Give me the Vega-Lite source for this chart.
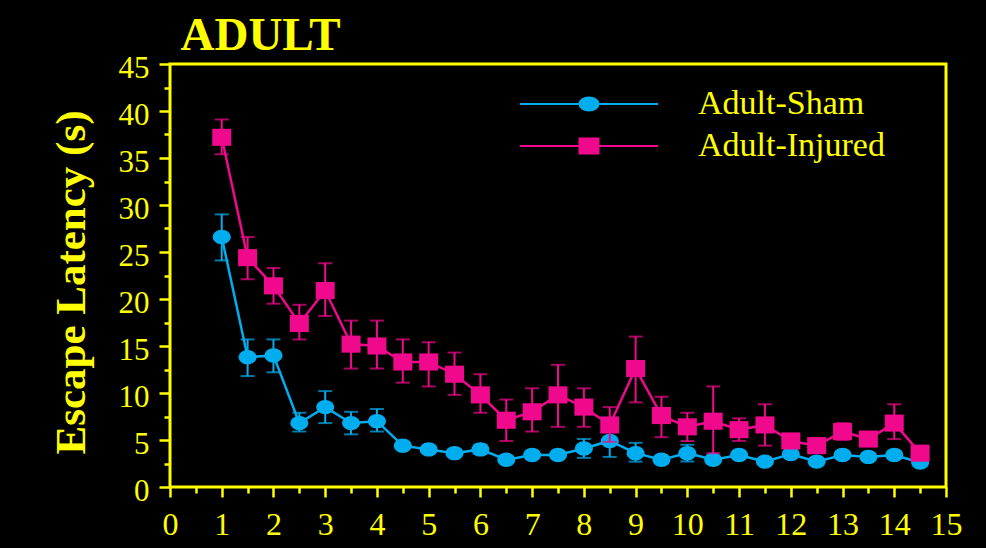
{
  "$schema": "https://vega.github.io/schema/vega-lite/v6.json",
  "width": 776,
  "height": 423,
  "autosize": "none",
  "padding": {"left": 170, "top": 64, "right": 40, "bottom": 61},
  "background": "#000000",
  "data": {
    "values": [
      {"day": 1, "group": "Adult-Sham", "mean": 26.6, "lo": 24.1, "hi": 29.0},
      {"day": 1.5, "group": "Adult-Sham", "mean": 13.8, "lo": 11.8, "hi": 15.7},
      {"day": 2, "group": "Adult-Sham", "mean": 14.0, "lo": 12.2, "hi": 15.7},
      {"day": 2.5, "group": "Adult-Sham", "mean": 6.8, "lo": 5.9, "hi": 7.9},
      {"day": 3, "group": "Adult-Sham", "mean": 8.5, "lo": 6.8, "hi": 10.2},
      {"day": 3.5, "group": "Adult-Sham", "mean": 6.8, "lo": 5.6, "hi": 8.0},
      {"day": 4, "group": "Adult-Sham", "mean": 7.0, "lo": 5.9, "hi": 8.3},
      {"day": 4.5, "group": "Adult-Sham", "mean": 4.4, "lo": 4.0, "hi": 4.8},
      {"day": 5, "group": "Adult-Sham", "mean": 4.0, "lo": 3.6, "hi": 4.4},
      {"day": 5.5, "group": "Adult-Sham", "mean": 3.6, "lo": 3.2, "hi": 4.0},
      {"day": 6, "group": "Adult-Sham", "mean": 4.0, "lo": 3.5, "hi": 4.5},
      {"day": 6.5, "group": "Adult-Sham", "mean": 2.9, "lo": 2.5, "hi": 3.3},
      {"day": 7, "group": "Adult-Sham", "mean": 3.4, "lo": 3.0, "hi": 3.8},
      {"day": 7.5, "group": "Adult-Sham", "mean": 3.4, "lo": 3.0, "hi": 3.8},
      {"day": 8, "group": "Adult-Sham", "mean": 4.1, "lo": 3.1, "hi": 5.1},
      {"day": 8.5, "group": "Adult-Sham", "mean": 4.9, "lo": 3.2, "hi": 6.6},
      {"day": 9, "group": "Adult-Sham", "mean": 3.6, "lo": 2.7, "hi": 4.7},
      {"day": 9.5, "group": "Adult-Sham", "mean": 2.9, "lo": 2.5, "hi": 3.3},
      {"day": 10, "group": "Adult-Sham", "mean": 3.6, "lo": 2.7, "hi": 4.5},
      {"day": 10.5, "group": "Adult-Sham", "mean": 2.9, "lo": 2.5, "hi": 3.3},
      {"day": 11, "group": "Adult-Sham", "mean": 3.4, "lo": 3.0, "hi": 3.8},
      {"day": 11.5, "group": "Adult-Sham", "mean": 2.7, "lo": 2.3, "hi": 3.1},
      {"day": 12, "group": "Adult-Sham", "mean": 3.5, "lo": 3.1, "hi": 3.9},
      {"day": 12.5, "group": "Adult-Sham", "mean": 2.7, "lo": 2.3, "hi": 3.1},
      {"day": 13, "group": "Adult-Sham", "mean": 3.4, "lo": 3.0, "hi": 3.8},
      {"day": 13.5, "group": "Adult-Sham", "mean": 3.2, "lo": 2.8, "hi": 3.6},
      {"day": 14, "group": "Adult-Sham", "mean": 3.4, "lo": 3.0, "hi": 3.8},
      {"day": 14.5, "group": "Adult-Sham", "mean": 2.6, "lo": 2.2, "hi": 3.0},
      {"day": 1, "group": "Adult-Injured", "mean": 37.2, "lo": 35.4, "hi": 39.1},
      {"day": 1.5, "group": "Adult-Injured", "mean": 24.4, "lo": 22.1, "hi": 26.6},
      {"day": 2, "group": "Adult-Injured", "mean": 21.4, "lo": 19.5, "hi": 23.3},
      {"day": 2.5, "group": "Adult-Injured", "mean": 17.4, "lo": 15.7, "hi": 19.4},
      {"day": 3, "group": "Adult-Injured", "mean": 20.9, "lo": 18.2, "hi": 23.8},
      {"day": 3.5, "group": "Adult-Injured", "mean": 15.2, "lo": 12.6, "hi": 17.7},
      {"day": 4, "group": "Adult-Injured", "mean": 15.0, "lo": 12.6, "hi": 17.7},
      {"day": 4.5, "group": "Adult-Injured", "mean": 13.3, "lo": 11.1, "hi": 15.7},
      {"day": 5, "group": "Adult-Injured", "mean": 13.3, "lo": 10.7, "hi": 15.4},
      {"day": 5.5, "group": "Adult-Injured", "mean": 12.0, "lo": 9.8, "hi": 14.3},
      {"day": 6, "group": "Adult-Injured", "mean": 9.8, "lo": 7.9, "hi": 12.0},
      {"day": 6.5, "group": "Adult-Injured", "mean": 7.1, "lo": 4.9, "hi": 9.3},
      {"day": 7, "group": "Adult-Injured", "mean": 8.0, "lo": 5.9, "hi": 10.5},
      {"day": 7.5, "group": "Adult-Injured", "mean": 9.8, "lo": 6.4, "hi": 13.0},
      {"day": 8, "group": "Adult-Injured", "mean": 8.5, "lo": 6.4, "hi": 10.5},
      {"day": 8.5, "group": "Adult-Injured", "mean": 6.6, "lo": 4.8, "hi": 8.5},
      {"day": 9, "group": "Adult-Injured", "mean": 12.6, "lo": 9.0, "hi": 16.0},
      {"day": 9.5, "group": "Adult-Injured", "mean": 7.6, "lo": 5.3, "hi": 9.6},
      {"day": 10, "group": "Adult-Injured", "mean": 6.4, "lo": 4.9, "hi": 7.9},
      {"day": 10.5, "group": "Adult-Injured", "mean": 7.0, "lo": 3.6, "hi": 10.7},
      {"day": 11, "group": "Adult-Injured", "mean": 6.1, "lo": 4.9, "hi": 7.3},
      {"day": 11.5, "group": "Adult-Injured", "mean": 6.6, "lo": 4.4, "hi": 8.8},
      {"day": 12, "group": "Adult-Injured", "mean": 4.9, "lo": 4.5, "hi": 5.3},
      {"day": 12.5, "group": "Adult-Injured", "mean": 4.4, "lo": 4.0, "hi": 4.8},
      {"day": 13, "group": "Adult-Injured", "mean": 5.9, "lo": 5.0, "hi": 6.8},
      {"day": 13.5, "group": "Adult-Injured", "mean": 5.1, "lo": 4.7, "hi": 5.5},
      {"day": 14, "group": "Adult-Injured", "mean": 6.8, "lo": 5.1, "hi": 8.8},
      {"day": 14.5, "group": "Adult-Injured", "mean": 3.6, "lo": 3.2, "hi": 4.0}
    ]
  },
  "config": {
    "view": {"stroke": "#ffff00", "strokeWidth": 3},
    "axis": {
      "grid": false,
      "domain": false,
      "tickColor": "#ffff00",
      "tickWidth": 2.5,
      "labelColor": "#ffff00",
      "labelFont": "Liberation Serif",
      "titleColor": "#ffff00",
      "titleFont": "Liberation Serif",
      "labelOverlap": false,
      "labelFlush": false
    }
  },
  "resolve": {"axis": {"x": "independent", "y": "independent"}},
  "layer": [
    {
      "transform": [{"filter": "datum.group === 'Adult-Sham'"}],
      "mark": {"type": "errorbar", "color": "#00aeef", "thickness": 2, "ticks": {"size": 14}},
      "encoding": {
        "x": {"field": "day", "type": "quantitative", "scale": {"domain": [0, 15], "nice": false}, "axis": null},
        "y": {"field": "lo", "type": "quantitative", "scale": {"domain": [0, 45], "nice": false}, "axis": null},
        "y2": {"field": "hi"}
      }
    },
    {
      "transform": [{"filter": "datum.group === 'Adult-Sham'"}],
      "mark": {"type": "line", "strokeWidth": 2.5},
      "encoding": {
        "x": {
          "field": "day", "type": "quantitative", "scale": {"domain": [0, 15], "nice": false},
          "axis": {"orient": "bottom", "title": null, "values": [0,1,2,3,4,5,6,7,8,9,10,11,12,13,14,15], "tickSize": 10, "labelFontSize": 32, "labelPadding": 12, "labelBaseline": "top"}
        },
        "y": {
          "field": "mean", "type": "quantitative", "scale": {"domain": [0, 45], "nice": false},
          "axis": {"orient": "left", "title": "Escape Latency (s)", "values": [0,5,10,15,20,25,30,35,40,45], "tickSize": 11, "labelFontSize": 31, "labelPadding": 10, "labelOffset": 4, "labelBaseline": "middle",
            "titleFontSize": 43, "titleFontWeight": "bold", "titleAngle": 270, "titleX": -86, "titleY": 218, "titleAlign": "center", "titleBaseline": "alphabetic"}
        },
        "color": {
          "field": "group", "type": "nominal",
          "scale": {"domain": ["Adult-Sham", "Adult-Injured"], "range": ["#00aeef", "#f0098c"]},
          "legend": {
            "orient": "none", "legendX": 402, "legendY": 23, "title": null, "padding": 0,
            "symbolType": "stroke", "symbolSize": 784, "symbolStrokeWidth": 2,
            "labelFont": "Liberation Serif", "labelFontSize": 34, "labelColor": "#ffff00",
            "labelOffset": 92, "labelLimit": 0, "rowPadding": 8,
            "encode": {"symbols": {"update": {
              "shape": {"signal": "datum.value === 'Adult-Sham' ? 'M-4.93,0H4.93M0.68,0A0.68,0.47 0 1,1 -0.68,0A0.68,0.47 0 1,1 0.68,0Z' : 'M-4.93,0H4.93M-0.68,-0.54H0.68V0.54H-0.68Z'"},
              "fill": {"scale": "color", "field": "value"},
              "stroke": {"scale": "color", "field": "value"},
              "strokeWidth": {"value": 2},
              "fillOpacity": {"value": 1},
              "opacity": {"value": 1}
            }}}
          }
        }
      }
    },
    {
      "transform": [{"filter": "datum.group === 'Adult-Sham'"}],
      "mark": {"type": "point", "filled": true, "opacity": 1, "color": "#00aeef", "shape": "M1,0A1,0.8 0 1,1 -1,0A1,0.8 0 1,1 1,0Z", "size": 324},
      "encoding": {
        "x": {
          "field": "day", "type": "quantitative", "scale": {"domain": [0, 15], "nice": false},
          "axis": {"orient": "top", "ticks": false, "labels": false, "domain": false, "title": "ADULT", "titleX": 10, "titleY": -15, "titleAlign": "left", "titleAnchor": "start", "titleBaseline": "alphabetic", "titleFontSize": 47, "titleFontWeight": "bold"}
        },
        "y": {"field": "mean", "type": "quantitative", "scale": {"domain": [0, 45], "nice": false}, "axis": null}
      }
    },
    {
      "transform": [{"filter": "datum.group === 'Adult-Injured'"}],
      "mark": {"type": "errorbar", "color": "#f0098c", "thickness": 2, "ticks": {"size": 14}},
      "encoding": {
        "x": {"field": "day", "type": "quantitative", "scale": {"domain": [0, 15], "nice": false}, "axis": null},
        "y": {"field": "lo", "type": "quantitative", "scale": {"domain": [0, 45], "nice": false}, "axis": null},
        "y2": {"field": "hi"}
      }
    },
    {
      "transform": [{"filter": "datum.group === 'Adult-Injured'"}],
      "mark": {"type": "line", "strokeWidth": 2.5},
      "encoding": {
        "x": {
          "field": "day", "type": "quantitative", "scale": {"domain": [0, 15], "nice": false},
          "axis": {"orient": "bottom", "title": null, "labels": false, "values": [0.5,1.5,2.5,3.5,4.5,5.5,6.5,7.5,8.5,9.5,10.5,11.5,12.5,13.5,14.5], "tickSize": 6}
        },
        "y": {
          "field": "mean", "type": "quantitative", "scale": {"domain": [0, 45], "nice": false},
          "axis": {"orient": "left", "title": null, "labels": false, "values": [2.5,7.5,12.5,17.5,22.5,27.5,32.5,37.5,42.5], "tickSize": 6}
        },
        "color": {
          "field": "group", "type": "nominal",
          "scale": {"domain": ["Adult-Sham", "Adult-Injured"], "range": ["#00aeef", "#f0098c"]},
          "legend": {
            "orient": "none", "legendX": 402, "legendY": 23, "title": null, "padding": 0,
            "symbolType": "stroke", "symbolSize": 784, "symbolStrokeWidth": 2,
            "labelFont": "Liberation Serif", "labelFontSize": 34, "labelColor": "#ffff00",
            "labelOffset": 92, "labelLimit": 0, "rowPadding": 8,
            "encode": {"symbols": {"update": {
              "shape": {"signal": "datum.value === 'Adult-Sham' ? 'M-4.93,0H4.93M0.68,0A0.68,0.47 0 1,1 -0.68,0A0.68,0.47 0 1,1 0.68,0Z' : 'M-4.93,0H4.93M-0.68,-0.54H0.68V0.54H-0.68Z'"},
              "fill": {"scale": "color", "field": "value"},
              "stroke": {"scale": "color", "field": "value"},
              "strokeWidth": {"value": 2},
              "fillOpacity": {"value": 1},
              "opacity": {"value": 1}
            }}}
          }
        }
      }
    },
    {
      "transform": [{"filter": "datum.group === 'Adult-Injured'"}],
      "mark": {"type": "point", "filled": true, "opacity": 1, "color": "#f0098c", "shape": "M-1,-0.9H1V0.9H-1Z", "size": 361},
      "encoding": {
        "x": {"field": "day", "type": "quantitative", "scale": {"domain": [0, 15], "nice": false}, "axis": null},
        "y": {"field": "mean", "type": "quantitative", "scale": {"domain": [0, 45], "nice": false}, "axis": null}
      }
    }
  ]
}
